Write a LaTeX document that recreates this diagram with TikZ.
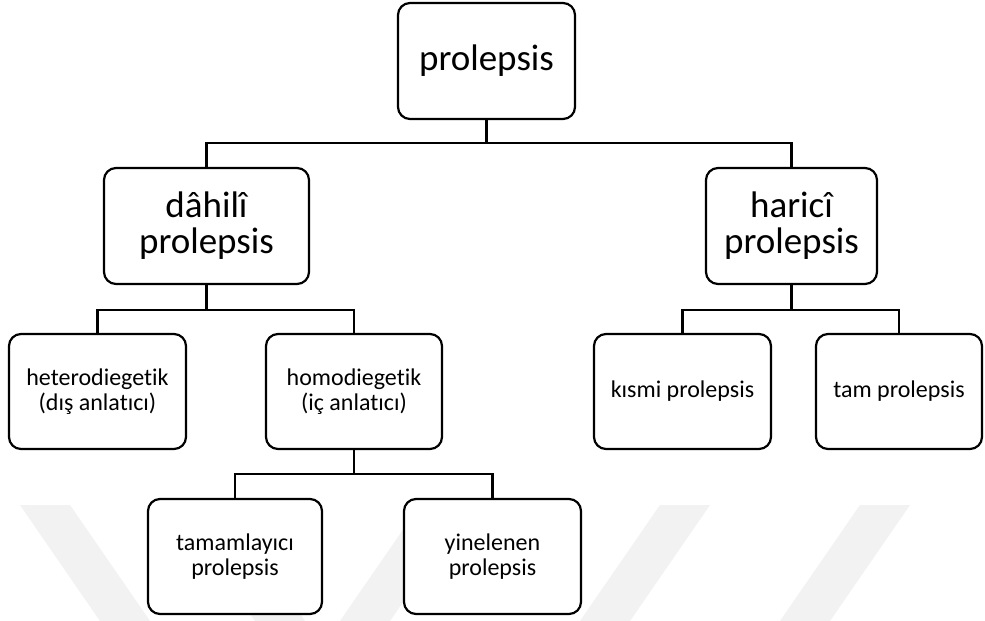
\documentclass[tikz,border=0pt]{standalone}
\usepackage{fontspec}
\setmainfont{Carlito}[Ligatures=NoCommon]
\begin{document}
\begin{tikzpicture}[x=1bp,y=-1bp,
  box/.style={draw=black, line width=2.2bp, rounded corners=12bp, fill=white,
    align=center, inner sep=2bp},
  bigbox/.style={box, font=\fontsize{37bp}{36bp}\selectfont},
  smallbox/.style={box, font=\fontsize{24bp}{25bp}\selectfont},
  link/.style={draw=black, line width=2.2bp},
  band/.style={fill=black!5, draw=none}]
\useasboundingbox (0,0) rectangle (985,621);
\fill[white] (0,0) rectangle (985,621);

% faint background stripes
\fill[band] (20,505) -- (70,505) -- (150,621) -- (100,621) -- cycle;
\fill[band] (175,505) -- (225,505) -- (305,621) -- (255,621) -- cycle;
\fill[band] (420,505) -- (470,505) -- (390,621) -- (340,621) -- cycle;
\fill[band] (660,505) -- (710,505) -- (630,621) -- (580,621) -- cycle;
\fill[band] (860,505) -- (910,505) -- (830,621) -- (780,621) -- cycle;

% boxes
\node[bigbox, minimum width=177bp, minimum height=116bp] (top) at (486.5,61) {prolepsis};
\node[bigbox, minimum width=205bp, minimum height=116bp] (dahili) at (206.5,226) {dâhilî\\prolepsis};
\node[bigbox, minimum width=171bp, minimum height=116bp] (harici) at (791.5,226) {haricî\\prolepsis};
\node[smallbox, minimum width=177bp, minimum height=115bp] (hetero) at (97.5,391.5) {heterodiegetik\\(dış anlatıcı)};
\node[smallbox, minimum width=176bp, minimum height=115bp] (homo) at (354,391.5) {homodiegetik\\(iç anlatıcı)};
\node[smallbox, minimum width=177bp, minimum height=115bp] (kismi) at (682.5,391.5) {kısmi prolepsis};
\node[smallbox, minimum width=166bp, minimum height=115bp] (tam) at (899,391.5) {tam prolepsis};
\node[smallbox, minimum width=174bp, minimum height=115bp] (tamam) at (235,556.5) {tamamlayıcı\\prolepsis};
\node[smallbox, minimum width=177bp, minimum height=115bp] (yine) at (492.5,556.5) {yinelenen\\prolepsis};

% bus junctions
\coordinate (bus1) at (486.5,143);
\coordinate (bus2) at (206.5,310);
\coordinate (bus3) at (791.5,310);
\coordinate (bus4) at (354,474);

% connectors
\draw[link] (top.south) -- (bus1);
\draw[link] (dahili.north) |- (bus1) -| (harici.north);
\draw[link] (dahili.south) -- (bus2);
\draw[link] (hetero.north) |- (bus2) -| (homo.north);
\draw[link] (harici.south) -- (bus3);
\draw[link] (kismi.north) |- (bus3) -| (tam.north);
\draw[link] (homo.south) -- (bus4);
\draw[link] (tamam.north) |- (bus4) -| (yine.north);
\end{tikzpicture}
\end{document}
